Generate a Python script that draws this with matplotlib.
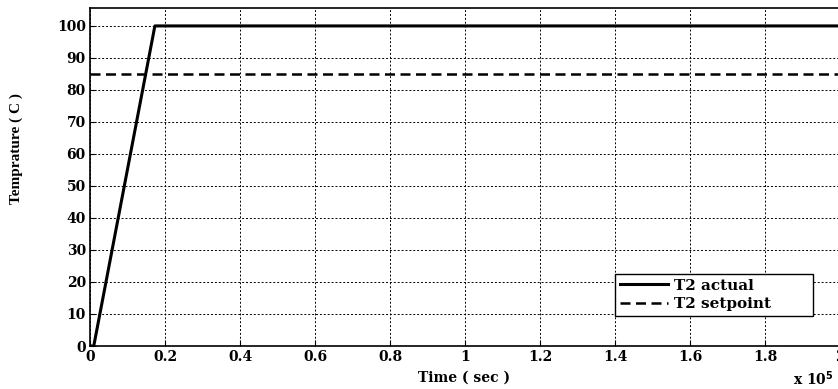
import matplotlib as mpl
mpl.use('Agg')
import matplotlib.pyplot as plt
from matplotlib.ticker import FuncFormatter

# Data (time in seconds, temperature in C)
timeActual = [0, 1000, 17300, 200000]
tempActual = [0, 0, 100, 100]
timeSetpoint = [0, 200000]
tempSetpoint = [85, 85]
xTicks = [0, 20000, 40000, 60000, 80000, 100000, 120000, 140000, 160000, 180000, 200000]
yTicks = [0, 10, 20, 30, 40, 50, 60, 70, 80, 90, 100]

plt.rcParams['font.family'] = 'DejaVu Serif'
plt.rcParams['font.weight'] = 'bold'

W, H = 838, 389
fig = plt.figure(figsize=(W / 100, H / 100), dpi=100)
ax = fig.add_axes([90 / W, (H - 346) / H, (840 - 90) / W, (346 - 8) / H])

ax.plot(timeActual, tempActual, color='black', linewidth=2.2, label='T2 actual')
ax.plot(timeSetpoint, tempSetpoint, color='black', linewidth=1.8,
        linestyle=(0, (4, 2.2)), label='T2 setpoint')

ax.set_xlim(0, 200000)
ax.set_ylim(0, 105.6)
ax.set_xticks(xTicks)
ax.set_yticks(yTicks)
ax.xaxis.set_major_formatter(FuncFormatter(lambda v, p: '%g' % (v / 1e5)))
ax.tick_params(direction='in', labelsize=10, length=4, width=0.8, pad=3)
for lbl in ax.get_xticklabels() + ax.get_yticklabels():
    lbl.set_fontweight('bold')
ax.grid(True, color='black', linestyle=(0, (2, 2)), linewidth=0.7)
for sp in ax.spines.values():
    sp.set_linewidth(1.2)

fig.text(464 / W, 1 - 378 / H, 'Time ( sec )', ha='center', va='center',
         fontsize=10, fontweight='bold')
fig.text(16 / W, 1 - 149 / H, 'Temprature ( C )', ha='center', va='center',
         rotation=90, fontsize=11, fontweight='bold', family='Liberation Serif')
fig.text(793 / W, 1 - 379 / H, r'x 10$^{\mathbf{5}}$', ha='left', va='center',
         fontsize=10, fontweight='bold')

leg = ax.legend(loc='upper left',
                bbox_to_anchor=((615 - 90) / 750, (346 - 274) / 338 - 0.01,
                                (813 - 615) / 750, 0.01),
                mode='expand', fancybox=False, framealpha=1, edgecolor='black',
                fontsize=11, handlelength=3.2, borderpad=0.3, labelspacing=0.3,
                handletextpad=0.35, borderaxespad=0)
leg.get_frame().set_linewidth(1.0)

fig.savefig('out.png', dpi=100)
